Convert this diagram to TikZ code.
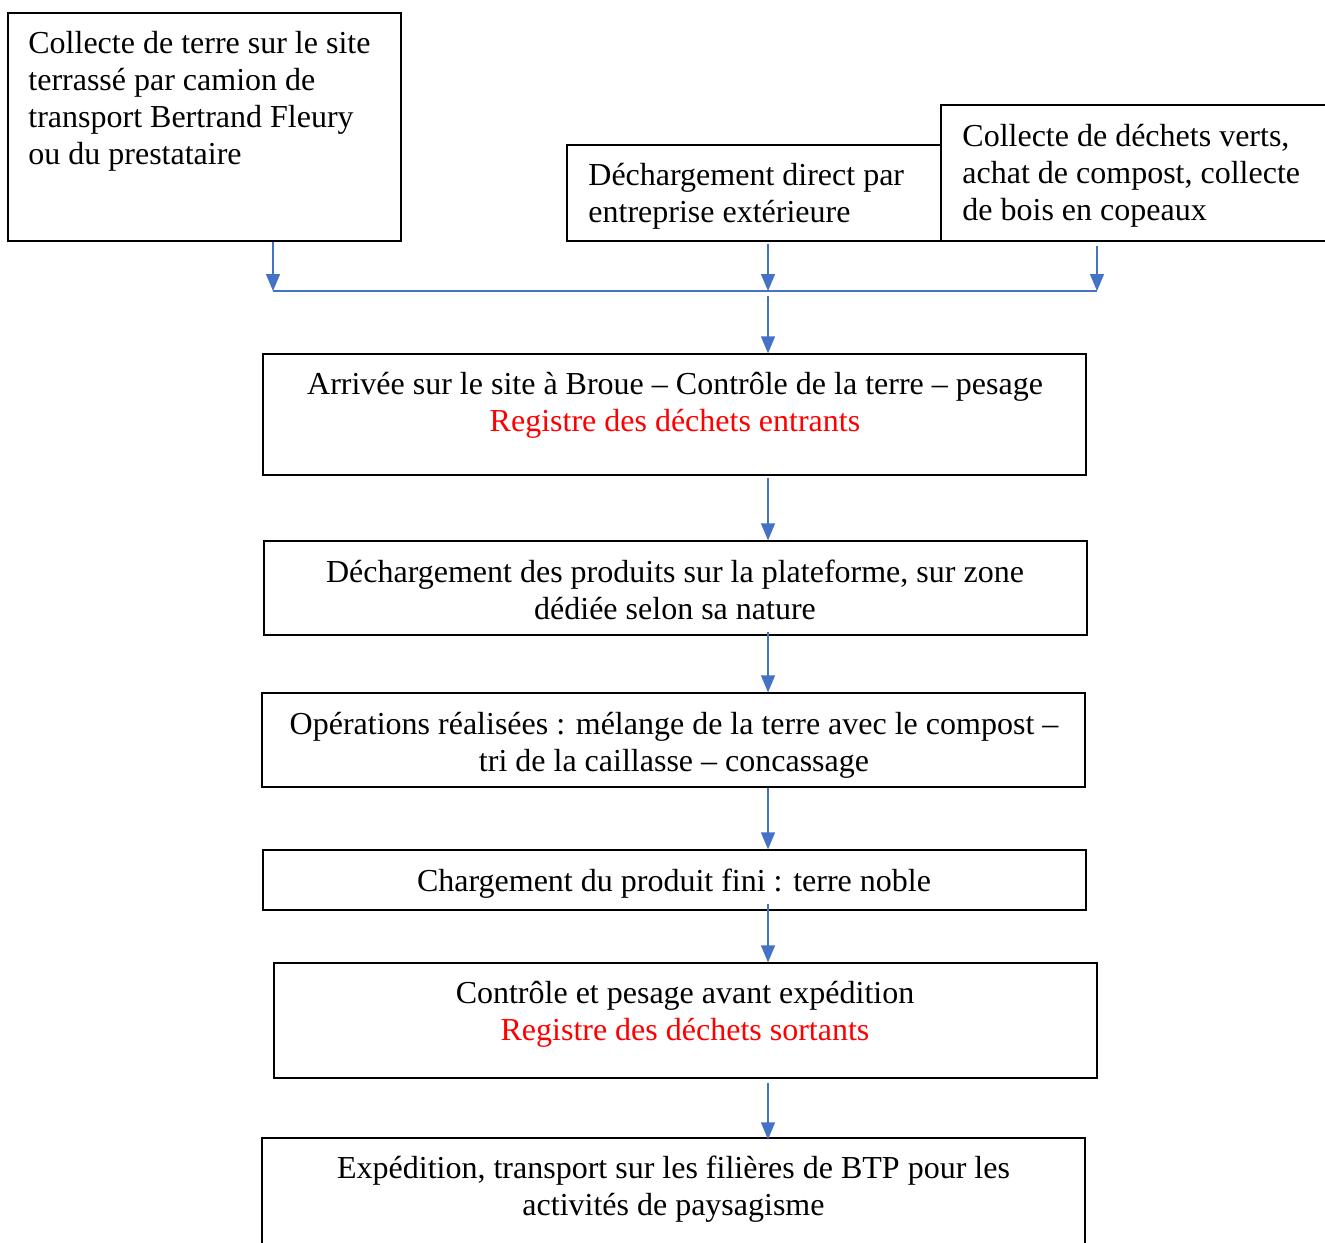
\documentclass[tikz,border=0pt]{standalone}
\usepackage{fontspec}
\setmainfont{Liberation Serif}
\usetikzlibrary{arrows.meta,fit}
\definecolor{arrowblue}{HTML}{4472C4}
\definecolor{regred}{HTML}{FF0000}
\tikzset{
  box/.style={draw=black, line width=0.65pt, inner sep=0pt, rectangle},
  txtl/.style={inner sep=0pt, anchor=north west, align=left, font=\fontsize{16}{18.5}\selectfont},
  txtc/.style={inner sep=0pt, anchor=north, align=center, font=\fontsize{16}{18.5}\selectfont},
  flow/.style={draw=arrowblue, line width=0.7pt, -{Triangle[length=8.5pt,width=7pt]}},
  joinline/.style={draw=arrowblue, line width=0.7pt},
}
\begin{document}
\begin{tikzpicture}[x=0.5pt,y=-0.5pt]
\clip (0,0) rectangle (1325,1242);
\fill[white] (0,0) rectangle (1325,1242);
% boxes
\node[box, fit={(8,13) (401,241)}] (b1) {};
\node[box, fit={(567,145) (941,241)}] (b2) {};
\node[box, fit={(941,105) (1340,241)}] (b3) {};
\node[box, fit={(263,354) (1086,475)}] (b4) {};
\node[box, fit={(264,541) (1087,635)}] (b5) {};
\node[box, fit={(262,693) (1085,787)}] (b6) {};
\node[box, fit={(263,850) (1086,910)}] (b7) {};
\node[box, fit={(274,963) (1097,1078)}] (b8) {};
\node[box, fit={(262,1138) (1085,1260)}] (b9) {};
% texts
\node[txtl] (t1) at (28,31) {Collecte de terre sur le site\\terrassé par camion de\\transport Bertrand Fleury\\ou du prestataire};
\node[txtl] (t2) at (588,163) {Déchargement direct par\\entreprise extérieure};
\node[txtl] (t3) at (962,124) {Collecte de déchets verts,\\achat de compost, collecte\\de bois en copeaux};
\node[txtc] (t4) at (675,372) {Arrivée sur le site à Broue – Contrôle de la terre – pesage\\\textcolor{regred}{Registre des déchets entrants}};
\node[txtc] (t5) at (675,560) {Déchargement des produits sur la plateforme, sur zone\\dédiée selon sa nature};
\node[txtc] (t6) at (674,712) {Opérations réalisées : mélange de la terre avec le compost –\\tri de la caillasse – concassage};
\node[txtc] (t7) at (674,869) {Chargement du produit fini : terre noble};
\node[txtc] (t8) at (685,981) {Contrôle et pesage avant expédition\\\textcolor{regred}{Registre des déchets sortants}};
\node[txtc] (t9) at (673.5,1156) {Expédition, transport sur les filières de BTP pour les\\activités de paysagisme};
% junction coordinates
\coordinate (j1) at (273,291);
\coordinate (j2) at (768,291);
\coordinate (j3) at (1097,291);
\coordinate (j2b) at (768,296);
\coordinate (col) at (768,0);
% connectors
\draw[flow] (j1 |- b1.south) -- (j1);
\draw[flow] ([yshift=-1pt]j2 |- b2.south) -- (j2);
\draw[flow] ([yshift=-2pt]j3 |- b3.south) -- (j3);
\draw[joinline] (j1) -- (j3);
\draw[flow] (j2b) -- (j2 |- b4.north);
\draw[flow] ([yshift=-1pt]b4.south -| col) -- (b5.north -| col);
\draw[flow] ([yshift=2pt]b5.south -| col) -- (b6.north -| col);
\draw[flow] (b6.south -| col) -- (b7.north -| col);
\draw[flow] ([yshift=3.5pt]b7.south -| col) -- (b8.north -| col);
\draw[flow] ([yshift=-2pt]b8.south -| col) -- ([yshift=-1pt]b9.north -| col);
\end{tikzpicture}
\end{document}
